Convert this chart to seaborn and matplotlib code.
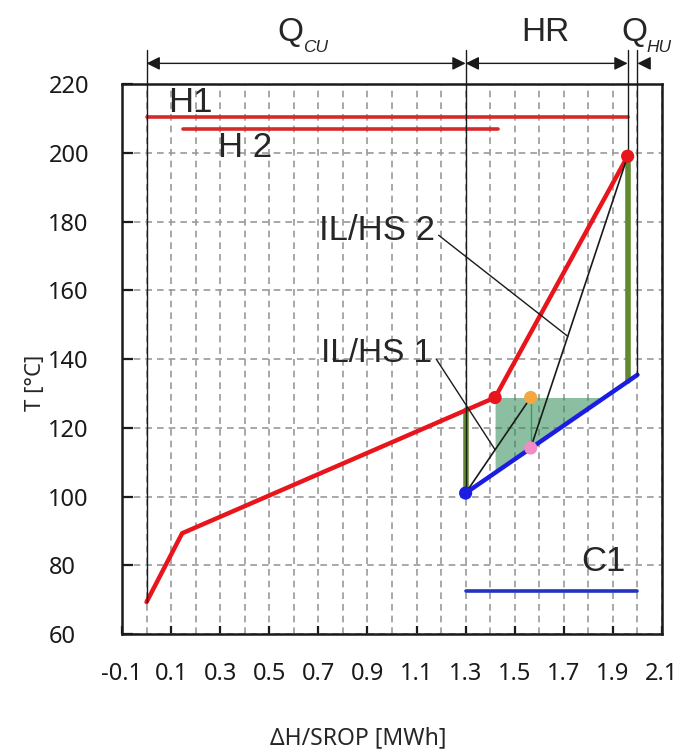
import numpy as np
import pandas as pd
import matplotlib
matplotlib.use("Agg")
import matplotlib.pyplot as plt
import seaborn as sns

# ---------------- data ----------------
hot_x = [0.0, 0.145, 1.42, 1.96]
hot_T = [69.3, 89.3, 128.8, 199.0]
cold_x = [1.3, 2.0]
cold_T = [101.0, 135.4]
h1_x = [0.0, 1.96]
h1_T = [210.5, 210.5]
h2_x = [0.15, 1.43]
h2_T = [207.0, 207.0]
c1_x = [1.3, 2.0]
c1_T = [72.5, 72.5]
hs_x = [1.565, 1.565]          # orange (HS) and pink (IL) points
hs_T = [128.8, 114.1]
green1_x = [1.3, 1.3]
green1_T = [101.0, 125.1]
green2_x = [1.96, 1.96]
green2_T = [133.6, 199.0]
xticks = [-0.1, 0.1, 0.3, 0.5, 0.7, 0.9, 1.1, 1.3, 1.5, 1.7, 1.9, 2.1]
xtick_labels = ["-0.1", "0.1", "0.3", "0.5", "0.7", "0.9", "1.1", "1.3", "1.5", "1.7", "1.9", "2.1"]
yticks = [60, 80, 100, 120, 140, 160, 180, 200, 220]
ytick_labels = ["60", "80", "100", "120", "140", "160", "180", "200", "220"]

# ---------------- style ----------------
sns.set_theme(style="ticks")
plt.rcParams["font.family"] = ["Liberation Sans", "DejaVu Sans"]

fig = plt.figure(figsize=(6.8, 7.55), dpi=100)
ax = fig.add_axes([122 / 680, 1 - 634 / 755, 540 / 680, 550 / 755])

RED = "#e8161c"
BLUE = "#1b1de0"
OLIVE = "#5f8a2e"

# fill (heat storage region)
xf = np.linspace(hot_x[2], np.interp(hot_T[2], cold_T, cold_x), 50)
ax.fill_between(xf, np.interp(xf, cold_x, cold_T), hot_T[2], color="#2e8b57",
                alpha=0.55, lw=0, zorder=2)

# green verticals
sns.lineplot(x=green1_x, y=green1_T, ax=ax, color=OLIVE, lw=4, sort=False, estimator=None, zorder=3)
sns.lineplot(x=green2_x, y=green2_T, ax=ax, color=OLIVE, lw=4, sort=False, estimator=None, zorder=3)
ax.plot(hs_x, hs_T, color="#3f9a5a", lw=1, zorder=3)

# composite curves
sns.lineplot(x=hot_x, y=hot_T, ax=ax, color=RED, lw=3.2, sort=False, estimator=None, zorder=4)
sns.lineplot(x=cold_x, y=cold_T, ax=ax, color=BLUE, lw=3.2, sort=False, estimator=None, zorder=4)

# stream lines
sns.lineplot(x=h1_x, y=h1_T, ax=ax, color="#d42a2a", lw=2.6, sort=False, estimator=None, zorder=4)
sns.lineplot(x=h2_x, y=h2_T, ax=ax, color="#d42a2a", lw=2.6, sort=False, estimator=None, zorder=4)
sns.lineplot(x=c1_x, y=c1_T, ax=ax, color="#2233c0", lw=2.6, sort=False, estimator=None, zorder=4)

# black thin connectors
ax.plot([cold_x[0], hs_x[0]], [cold_T[0], hs_T[0]], color="k", lw=1.2, zorder=5)
ax.plot([hs_x[1], hot_x[3]], [hs_T[1], hot_T[3]], color="k", lw=1.2, zorder=5)

# points
sns.scatterplot(x=[hot_x[2], hot_x[3]], y=[hot_T[2], hot_T[3]], ax=ax, color=RED, s=90, edgecolor="none", zorder=6)
sns.scatterplot(x=[cold_x[0]], y=[cold_T[0]], ax=ax, color=BLUE, s=90, edgecolor="none", zorder=6)
sns.scatterplot(x=[hs_x[0]], y=[hs_T[0]], ax=ax, color="#f4a640", s=90, edgecolor="none", zorder=6)
sns.scatterplot(x=[hs_x[1]], y=[hs_T[1]], ax=ax, color="#f28cc6", s=90, edgecolor="none", zorder=6)

# vertical reference lines above plot
YTOP = 230
for xv, yv in [(hot_x[0], hot_T[0]), (cold_x[0], cold_T[0]), (hot_x[3], hot_T[3]), (cold_x[1], cold_T[1])]:
    ax.plot([xv, xv], [yv, YTOP], color="k", lw=1, clip_on=False, zorder=5)

YA = 226
arr = dict(arrowstyle="<|-|>", color="k", lw=1, mutation_scale=20, shrinkA=0, shrinkB=0)
ax.annotate("", xy=(hot_x[0], YA), xytext=(cold_x[0], YA), arrowprops=arr, annotation_clip=False)
ax.annotate("", xy=(cold_x[0], YA), xytext=(hot_x[3], YA), arrowprops=arr, annotation_clip=False)
ax.annotate("", xy=(cold_x[1], YA), xytext=(2.05, YA),
            arrowprops=dict(arrowstyle="-|>", color="k", lw=1, mutation_scale=20, shrinkA=0, shrinkB=0),
            annotation_clip=False)

# top labels (Q with italic subscripts)
ax.text(0.533, 232.5, "Q", fontsize=24, ha="left", va="baseline", clip_on=False)
ax.text(0.636, 229.3, "CU", fontsize=12.5, style="italic", ha="left", va="baseline", clip_on=False)
ax.text(1.626, 232.5, "HR", fontsize=24, ha="center", va="baseline", clip_on=False)
ax.text(1.935, 232.5, "Q", fontsize=24, ha="left", va="baseline", clip_on=False)
ax.text(2.038, 229.3, "HU", fontsize=12.5, style="italic", ha="left", va="baseline", clip_on=False)

ax.text(0.18, 214.7, "H1", fontsize=25, ha="center", va="center")
ax.text(0.40, 201.4, "H 2", fontsize=25, ha="center", va="center")
ax.text(1.86, 81.2, "C1", fontsize=25, ha="center", va="center")

ax.text(1.175, 177.5, "IL/HS 2", fontsize=25, ha="right", va="center")
ax.plot([1.19, 1.716], [176.0, 146.6], color="k", lw=1, zorder=5)
ax.text(1.165, 141.5, "IL/HS 1", fontsize=24, ha="right", va="center")
ax.plot([1.18, 1.42], [140.0, 113.6], color="k", lw=1, zorder=5)

# axes
ax.set_xlim(-0.1, 2.1)
ax.set_ylim(60, 220)
ax.set_xticks(xticks)
ax.set_xticklabels(xtick_labels, fontfamily="Noto Sans", fontsize=17)
ax.set_xticks(np.arange(-0.1, 2.11, 0.1), minor=True)
ax.set_yticks(yticks)
ax.set_yticklabels(ytick_labels, fontfamily="Noto Sans", fontsize=17, ha="left")
ax.tick_params(axis="x", which="major", direction="in", length=6, width=1.6, pad=20, colors="k")
ax.tick_params(axis="y", which="major", direction="in", length=8, width=1.6, pad=53, colors="k")
ax.tick_params(which="minor", length=0)
ax.grid(axis="x", which="both", ls=(0, (4, 3)), color="#9a9a9a", lw=1.2)
ax.grid(axis="y", which="major", ls=(0, (4, 3)), color="#9a9a9a", lw=1.2)
ax.set_axisbelow(True)
for s in ax.spines.values():
    s.set_visible(True)
    s.set_linewidth(1.8)
    s.set_color("k")

ax.set_xlabel("ΔH/SROP [MWh]", fontfamily="Noto Sans", fontsize=16.5)
ax.xaxis.set_label_coords((358 - 122) / 540, -(726 - 634) / 550)
ax.set_ylabel("T [°C]", fontfamily="Noto Sans", fontsize=16)
ax.yaxis.set_label_coords(-(122 - 46) / 540, (634 - 383) / 550)

fig.savefig("out.png", dpi=100)
